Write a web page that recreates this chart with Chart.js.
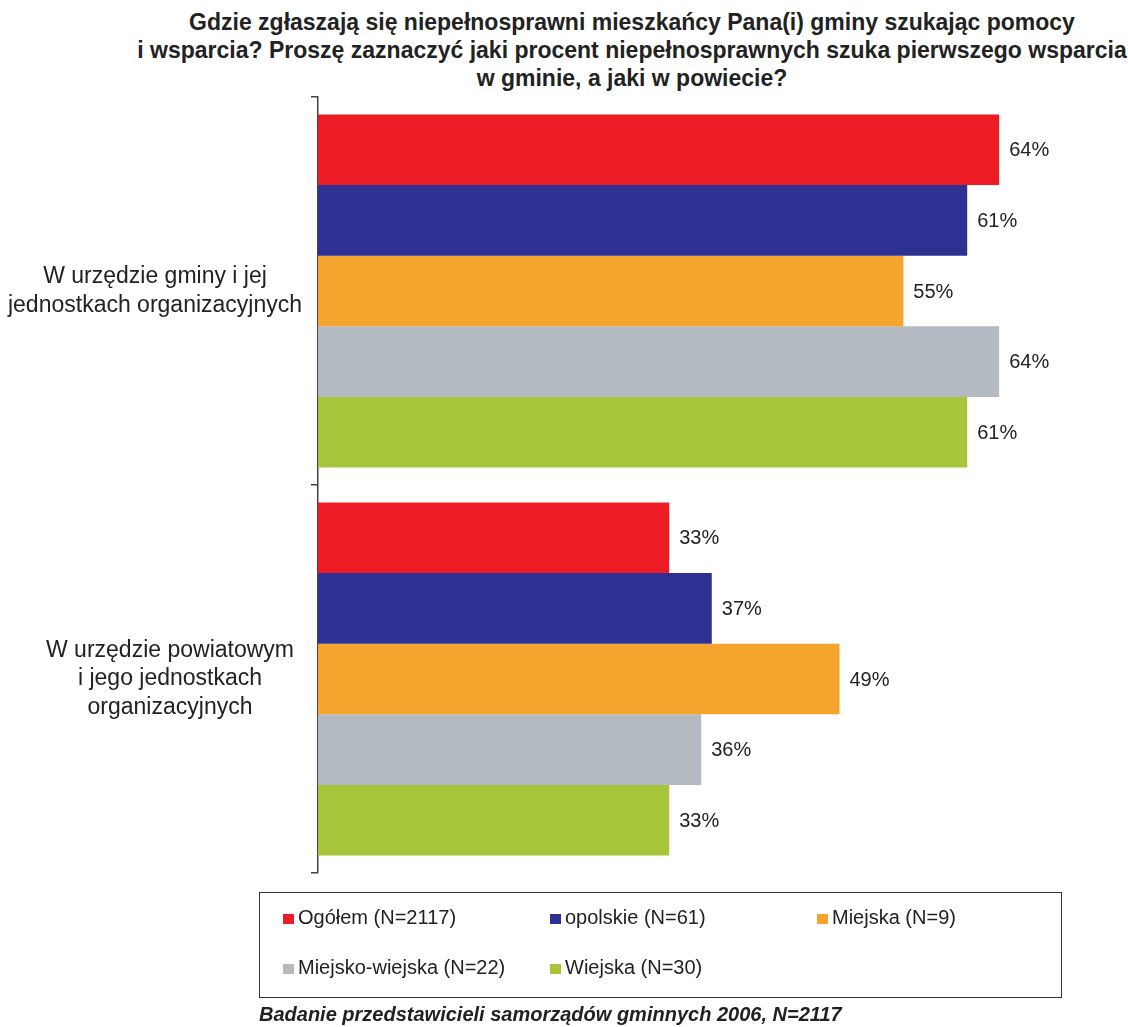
<!DOCTYPE html>
<html>
<head>
<meta charset="utf-8">
<script src="https://cdn.jsdelivr.net/npm/chart.js@4"></script>
<style>
  body { margin: 0; background: #fff; font-family: "Liberation Sans", Arial, sans-serif; }
  #wrap { position: relative; width: 1128px; height: 1027px; overflow: hidden; }
  #title { position: absolute; left: 0; width: 1264px; top: 8px; text-align: center; font-weight: bold; font-size: 23px; line-height: 28px; color: #222; white-space: nowrap; }
  #legend { position: absolute; left: 259px; top: 892px; width: 801px; height: 104px; border: 1px solid #333; }
  .item { position: absolute; font-size: 20px; line-height: 20px; color: #222; white-space: nowrap; }
  .item span { display: inline-block; width: 11px; height: 10px; margin-right: 4px; }
  #foot { position: absolute; left: 259px; top: 1004px; font-size: 20px; line-height: 20px; font-weight: bold; font-style: italic; color: #222; white-space: nowrap; }
  canvas { position: absolute; left: 0; top: 0; }
</style>
</head>
<body>
<div id="wrap">
  <div id="title">Gdzie zgłaszają się niepełnosprawni mieszkańcy Pana(i) gminy szukając pomocy<br>i wsparcia? Proszę zaznaczyć jaki procent niepełnosprawnych szuka pierwszego wsparcia<br>w gminie, a jaki w powiecie?</div>
  <canvas id="myChartBar" width="1128" height="1027"></canvas>
  <div id="legend"></div>
  <div id="foot">Badanie przedstawicieli samorządów gminnych 2006, N=2117</div>
</div>
<script>
const categories = [
  ['W urzędzie gminy i jej', 'jednostkach organizacyjnych'],
  ['W urzędzie powiatowym', 'i jego jednostkach', 'organizacyjnych']
];
const seriesNames = ['Ogółem (N=2117)', 'opolskie (N=61)', 'Miejska (N=9)', 'Miejsko-wiejska (N=22)', 'Wiejska (N=30)'];
const seriesColors = ['#ED1C24', '#2E3192', '#F5A52D', '#B4BAC2', '#A6C53B'];
const ogolem = [64, 33];
const opolskie = [61, 37];
const miejska = [55, 49];
const miejskoWiejska = [64, 36];
const wiejska = [61, 33];
const seriesValues = [ogolem, opolskie, miejska, miejskoWiejska, wiejska];

// legend item positions inside the box (left, top)
const legendPos = [[23, 14], [290, 14], [557, 14], [23, 64], [290, 64]];
const legend = document.getElementById('legend');
seriesNames.forEach((name, i) => {
  const d = document.createElement('div');
  d.className = 'item';
  d.style.left = legendPos[i][0] + 'px';
  d.style.top = legendPos[i][1] + 'px';
  d.innerHTML = '<span style="background:' + seriesColors[i] + '"></span>' + name;
  legend.appendChild(d);
});

// value labels at the end of each bar
const valueLabels = {
  id: 'valueLabels',
  afterDatasetsDraw(chart) {
    const ctx = chart.ctx;
    ctx.save();
    ctx.font = '20px "Liberation Sans", Arial, sans-serif';
    ctx.fillStyle = '#222';
    ctx.textBaseline = 'middle';
    chart.data.datasets.forEach((ds, i) => {
      chart.getDatasetMeta(i).data.forEach((bar, j) => {
        ctx.fillText(ds.data[j] + '%', bar.x + 10, bar.y + 1);
      });
    });
    ctx.restore();
  }
};

// category labels, each block centred on its own widest line
const labelCenters = [155, 170];
const categoryLabels = {
  id: 'categoryLabels',
  afterDraw(chart) {
    const ctx = chart.ctx;
    const scale = chart.scales.y;
    ctx.save();
    ctx.font = '23px "Liberation Sans", Arial, sans-serif';
    ctx.fillStyle = '#222';
    ctx.textAlign = 'center';
    ctx.textBaseline = 'middle';
    chart.data.labels.forEach((lines, i) => {
      const y = scale.getPixelForValue(i);
      lines.forEach((line, k) => {
        ctx.fillText(line, labelCenters[i], y + (k - (lines.length - 1) / 2) * 28.5);
      });
    });
    ctx.restore();
  }
};

const ctx = document.getElementById('myChartBar').getContext('2d');
new Chart(ctx, {
  type: 'bar',
  data: {
    labels: categories,
    datasets: seriesValues.map((vals, i) => ({
      label: seriesNames[i],
      data: vals,
      backgroundColor: seriesColors[i],
      categoryPercentage: 0.91,
      barPercentage: 1.0
    }))
  },
  options: {
    indexAxis: 'y',
    responsive: false,
    animation: false,
    layout: { padding: { top: 97, bottom: 154, right: 65, left: 0 } },
    plugins: { legend: { display: false }, tooltip: { enabled: false } },
    scales: {
      x: { display: false, min: 0, max: 70 },
      y: {
        afterFit: (scale) => { scale.width = 318; },
        border: { color: '#444', width: 1.5 },
        grid: { drawOnChartArea: false, tickLength: 7, color: '#444', lineWidth: 1.5 },
        ticks: { display: false }
      }
    }
  },
  plugins: [valueLabels, categoryLabels]
});
</script>
</body>
</html>
